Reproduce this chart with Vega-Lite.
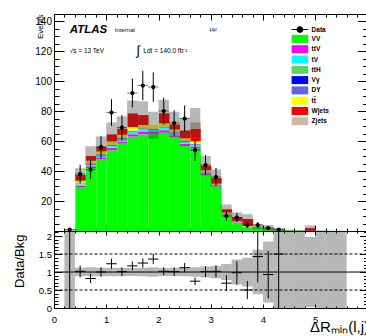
{
  "$schema": "https://vega.github.io/schema/vega-lite/v6.json",
  "padding": {"left": 12, "top": 13, "right": 0, "bottom": 0},
  "spacing": 0,
  "bounds": "flush",
  "config": {
    "font": "Liberation Sans",
    "view": {"stroke": "black", "strokeWidth": 1},
    "axis": {"grid": false, "domain": false, "tickColor": "black", "labelColor": "black", "titleColor": "black", "tickWidth": 1, "labelFlush": false, "labelOverlap": false, "titleFontWeight": "normal", "labelFont": "Liberation Sans", "titleFont": "Liberation Sans"}
  },
  "datasets": {
    "mc": [
      {"b": 0.2, "VV": 0.15, "ttV": 0, "tV": 0, "ttH": 0, "Vy": 0, "DY": 0, "tt": 0, "Wjets": 0, "Zjets": 0},
      {"b": 0.4, "VV": 29.3, "ttV": 1.0, "tV": 0.8, "ttH": 0.2, "Vy": 0.2, "DY": 0.3, "tt": 1.8, "Wjets": 3.7, "Zjets": 0},
      {"b": 0.6, "VV": 42.0, "ttV": 1.2, "tV": 1.0, "ttH": 0.3, "Vy": 0.2, "DY": 0.3, "tt": 1.8, "Wjets": 3.2, "Zjets": 0},
      {"b": 0.8, "VV": 47.8, "ttV": 1.3, "tV": 1.2, "ttH": 0.3, "Vy": 0.2, "DY": 0.3, "tt": 2.0, "Wjets": 3.1, "Zjets": 0},
      {"b": 1.0, "VV": 53.8, "ttV": 1.5, "tV": 1.3, "ttH": 0.4, "Vy": 0.2, "DY": 0.3, "tt": 2.2, "Wjets": 4.7, "Zjets": 0},
      {"b": 1.2, "VV": 58.2, "ttV": 1.5, "tV": 1.4, "ttH": 0.4, "Vy": 0.2, "DY": 0.3, "tt": 2.2, "Wjets": 4.0, "Zjets": 0},
      {"b": 1.4, "VV": 62.9, "ttV": 1.6, "tV": 1.5, "ttH": 0.4, "Vy": 0.2, "DY": 0.3, "tt": 2.3, "Wjets": 9.2, "Zjets": 0},
      {"b": 1.6, "VV": 64.4, "ttV": 1.6, "tV": 1.5, "ttH": 0.4, "Vy": 0.2, "DY": 0.3, "tt": 2.3, "Wjets": 6.6, "Zjets": 0},
      {"b": 1.8, "VV": 64.9, "ttV": 1.4, "tV": 1.2, "ttH": 0.3, "Vy": 0.2, "DY": 0.3, "tt": 2.2, "Wjets": 0, "Zjets": 0},
      {"b": 2.0, "VV": 65.6, "ttV": 1.6, "tV": 1.5, "ttH": 0.4, "Vy": 0.2, "DY": 0.3, "tt": 2.2, "Wjets": 6.7, "Zjets": 0},
      {"b": 2.2, "VV": 62.2, "ttV": 1.5, "tV": 1.3, "ttH": 0.4, "Vy": 0.2, "DY": 0.3, "tt": 1.8, "Wjets": 3.3, "Zjets": 0},
      {"b": 2.4, "VV": 56.7, "ttV": 1.4, "tV": 1.2, "ttH": 0.3, "Vy": 0.2, "DY": 0.3, "tt": 1.8, "Wjets": 5.1, "Zjets": 0},
      {"b": 2.6, "VV": 55.0, "ttV": 1.3, "tV": 1.1, "ttH": 0.3, "Vy": 0.2, "DY": 0.3, "tt": 1.6, "Wjets": 8.2, "Zjets": 4.5},
      {"b": 2.8, "VV": 37.5, "ttV": 0.9, "tV": 0.7, "ttH": 0.2, "Vy": 0.1, "DY": 0.2, "tt": 0.9, "Wjets": 3.0, "Zjets": 0},
      {"b": 3.0, "VV": 28.9, "ttV": 0.8, "tV": 0.6, "ttH": 0.2, "Vy": 0.1, "DY": 0.2, "tt": 0.8, "Wjets": 3.7, "Zjets": 0},
      {"b": 3.2, "VV": 11.0, "ttV": 0.4, "tV": 0.3, "ttH": 0.1, "Vy": 0.05, "DY": 0.1, "tt": 0.4, "Wjets": 2.15, "Zjets": 0},
      {"b": 3.4, "VV": 5.6, "ttV": 0.3, "tV": 0.2, "ttH": 0.05, "Vy": 0.05, "DY": 0.1, "tt": 0.3, "Wjets": 2.6, "Zjets": 0},
      {"b": 3.6, "VV": 2.5, "ttV": 0.2, "tV": 0.2, "ttH": 0.05, "Vy": 0.05, "DY": 0.05, "tt": 0.3, "Wjets": 4.65, "Zjets": 0},
      {"b": 3.8, "VV": 2.0, "ttV": 0.1, "tV": 0.1, "ttH": 0, "Vy": 0, "DY": 0.05, "tt": 0.15, "Wjets": 0.4, "Zjets": 0},
      {"b": 4.0, "VV": 1.6, "ttV": 0.1, "tV": 0.05, "ttH": 0, "Vy": 0, "DY": 0, "tt": 0.1, "Wjets": 0.3, "Zjets": 0},
      {"b": 4.2, "VV": 0.5, "ttV": 0.05, "tV": 0.05, "ttH": 0, "Vy": 0, "DY": 0, "tt": 0, "Wjets": 0.07, "Zjets": 0},
      {"b": 4.4, "VV": 0.3, "ttV": 0, "tV": 0, "ttH": 0, "Vy": 0, "DY": 0, "tt": 0, "Wjets": 0, "Zjets": 0},
      {"b": 4.6, "VV": 0.2, "ttV": 0, "tV": 0, "ttH": 0, "Vy": 0, "DY": 0, "tt": 0, "Wjets": 0, "Zjets": 0},
      {"b": 4.8, "VV": 0.1, "ttV": 0, "tV": 0, "ttH": 0, "Vy": 0, "DY": 0, "tt": 0, "Wjets": 1.8, "Zjets": 0},
      {"b": 5.0, "VV": 0.1, "ttV": 0, "tV": 0, "ttH": 0, "Vy": 0, "DY": 0, "tt": 0, "Wjets": 0, "Zjets": 0},
      {"b": 5.2, "VV": 0.05, "ttV": 0, "tV": 0, "ttH": 0, "Vy": 0, "DY": 0, "tt": 0, "Wjets": 0, "Zjets": 0},
      {"b": 5.4, "VV": 0.05, "ttV": 0, "tV": 0, "ttH": 0, "Vy": 0, "DY": 0, "tt": 0, "Wjets": 0, "Zjets": 0}
    ],
    "order": [
      {"p": "VV", "k": 0}, {"p": "ttV", "k": 1}, {"p": "tV", "k": 2}, {"p": "ttH", "k": 3}, {"p": "Vy", "k": 4},
      {"p": "DY", "k": 5}, {"p": "tt", "k": 6}, {"p": "Wjets", "k": 7}, {"p": "Zjets", "k": 8}
    ],
    "tot": [
      {"b": 0.2, "e": 0.4, "dn": 0, "up": 0.4, "rl": 0, "rh": 3},
      {"b": 0.4, "e": 0.6, "dn": 32.8, "up": 41.8, "rl": 0.88, "rh": 1.12},
      {"b": 0.6, "e": 0.8, "dn": 44.0, "up": 56.5, "rl": 0.88, "rh": 1.13},
      {"b": 0.8, "e": 1.0, "dn": 49.5, "up": 63.0, "rl": 0.88, "rh": 1.12},
      {"b": 1.0, "e": 1.2, "dn": 56.7, "up": 72.4, "rl": 0.88, "rh": 1.12},
      {"b": 1.2, "e": 1.4, "dn": 60.0, "up": 76.4, "rl": 0.88, "rh": 1.12},
      {"b": 1.4, "e": 1.6, "dn": 69.5, "up": 87.0, "rl": 0.89, "rh": 1.11},
      {"b": 1.6, "e": 1.8, "dn": 68.0, "up": 86.5, "rl": 0.88, "rh": 1.12},
      {"b": 1.8, "e": 2.0, "dn": 61.5, "up": 79.5, "rl": 0.87, "rh": 1.13},
      {"b": 2.0, "e": 2.2, "dn": 69.5, "up": 87.5, "rl": 0.89, "rh": 1.11},
      {"b": 2.2, "e": 2.4, "dn": 63.0, "up": 79.5, "rl": 0.89, "rh": 1.12},
      {"b": 2.4, "e": 2.6, "dn": 59.0, "up": 75.0, "rl": 0.88, "rh": 1.12},
      {"b": 2.6, "e": 2.8, "dn": 63.0, "up": 82.0, "rl": 0.87, "rh": 1.13},
      {"b": 2.8, "e": 3.0, "dn": 37.0, "up": 50.0, "rl": 0.85, "rh": 1.15},
      {"b": 3.0, "e": 3.2, "dn": 29.5, "up": 41.0, "rl": 0.83, "rh": 1.17},
      {"b": 3.2, "e": 3.4, "dn": 11.3, "up": 17.7, "rl": 0.78, "rh": 1.22},
      {"b": 3.4, "e": 3.6, "dn": 6.0, "up": 12.4, "rl": 0.65, "rh": 1.35},
      {"b": 3.6, "e": 3.8, "dn": 4.8, "up": 11.2, "rl": 0.6, "rh": 1.4},
      {"b": 3.8, "e": 4.0, "dn": 1.06, "up": 4.54, "rl": 0.38, "rh": 1.62},
      {"b": 4.0, "e": 4.2, "dn": 0.3, "up": 4.0, "rl": 0.15, "rh": 1.85},
      {"b": 4.2, "e": 4.4, "dn": 0, "up": 2.0, "rl": 0, "rh": 3},
      {"b": 4.4, "e": 4.6, "dn": 0, "up": 0.9, "rl": 0, "rh": 3},
      {"b": 4.6, "e": 4.8, "dn": 0, "up": 0.6, "rl": 0, "rh": 3},
      {"b": 4.8, "e": 5.0, "dn": 0.05, "up": 3.75, "rl": 0.03, "rh": 1.97},
      {"b": 5.0, "e": 5.2, "dn": 0, "up": 0.3, "rl": 0, "rh": 3},
      {"b": 5.2, "e": 5.4, "dn": 0, "up": 0.15, "rl": 0, "rh": 3},
      {"b": 5.4, "e": 5.6, "dn": 0, "up": 0.15, "rl": 0, "rh": 3}
    ],
    "obs": [
      {"c": 0.3, "n": 1, "nl": 0, "nh": 2, "r": 6.7, "rl": 0, "rh": 13.4},
      {"c": 0.5, "n": 38, "nl": 31.8, "nh": 44.2, "r": 1.02, "rl": 0.85, "rh": 1.18},
      {"c": 0.7, "n": 41, "nl": 34.6, "nh": 47.4, "r": 0.82, "rl": 0.69, "rh": 0.95},
      {"c": 0.9, "n": 56, "nl": 48.5, "nh": 63.5, "r": 1.0, "rl": 0.87, "rh": 1.13},
      {"c": 1.1, "n": 79, "nl": 70.1, "nh": 87.9, "r": 1.23, "rl": 1.09, "rh": 1.37},
      {"c": 1.3, "n": 69, "nl": 60.7, "nh": 77.3, "r": 1.01, "rl": 0.89, "rh": 1.13},
      {"c": 1.5, "n": 92, "nl": 82.4, "nh": 101.6, "r": 1.17, "rl": 1.05, "rh": 1.29},
      {"c": 1.7, "n": 97, "nl": 87.2, "nh": 106.8, "r": 1.25, "rl": 1.12, "rh": 1.38},
      {"c": 1.9, "n": 96, "nl": 86.2, "nh": 105.8, "r": 1.36, "rl": 1.22, "rh": 1.5},
      {"c": 2.1, "n": 80, "nl": 71.1, "nh": 88.9, "r": 1.02, "rl": 0.91, "rh": 1.13},
      {"c": 2.3, "n": 72, "nl": 63.5, "nh": 80.5, "r": 1.01, "rl": 0.89, "rh": 1.13},
      {"c": 2.5, "n": 75, "nl": 66.3, "nh": 83.7, "r": 1.12, "rl": 0.99, "rh": 1.25},
      {"c": 2.7, "n": 54, "nl": 46.7, "nh": 61.3, "r": 0.745, "rl": 0.64, "rh": 0.85},
      {"c": 2.9, "n": 44, "nl": 37.4, "nh": 50.6, "r": 1.01, "rl": 0.86, "rh": 1.16},
      {"c": 3.1, "n": 36, "nl": 30, "nh": 42, "r": 1.02, "rl": 0.85, "rh": 1.19},
      {"c": 3.3, "n": 10, "nl": 6.84, "nh": 13.16, "r": 0.69, "rl": 0.47, "rh": 0.91},
      {"c": 3.5, "n": 9, "nl": 6, "nh": 12, "r": 0.98, "rl": 0.65, "rh": 1.3},
      {"c": 3.7, "n": 4, "nl": 2, "nh": 6, "r": 0.5, "rl": 0.25, "rh": 0.75},
      {"c": 3.9, "n": 4, "nl": 2, "nh": 6, "r": 1.43, "rl": 0.71, "rh": 2.14},
      {"c": 4.1, "n": 2, "nl": 0.59, "nh": 3.41, "r": 0.93, "rl": 0.27, "rh": 1.59},
      {"c": 4.3, "n": 1, "nl": 0, "nh": 2, "r": 1.5, "rl": 0, "rh": 3}
    ]
  },
  "vconcat": [
    {
      "width": 313.5,
      "height": 217,
      "layer": [
        {
          "data": {"name": "mc"},
          "transform": [
            {"fold": ["VV", "ttV", "tV", "ttH", "Vy", "DY", "tt", "Wjets", "Zjets"], "as": ["p", "v"]},
            {"lookup": "p", "from": {"data": {"name": "order"}, "key": "p", "fields": ["k"]}}
          ],
          "mark": {"type": "bar", "binSpacing": 0, "strokeWidth": 0},
          "encoding": {
            "x": {"field": "b", "type": "quantitative", "bin": {"binned": true, "step": 0.2},
              "scale": {"domain": [0, 6], "nice": false, "zero": false},
              "axis": {"orient": "bottom", "title": null, "labels": false,
                "values": [0,0.2,0.4,0.6,0.8,1,1.2,1.4,1.6,1.8,2,2.2,2.4,2.6,2.8,3,3.2,3.4,3.6,3.8,4,4.2,4.4,4.6,4.8,5,5.2,5.4,5.6,5.8,6],
                "tickSize": {"condition": {"test": "abs(datum.value - round(datum.value)) < 0.01", "value": -6}, "value": -3}}},
            "y": {"field": "v", "type": "quantitative", "stack": "zero",
              "scale": {"domain": [0, 144.7], "nice": false},
              "axis": {"orient": "left", "title": "Events", "titleFontSize": 8, "titleX": -9.5, "titleY": 0, "titleAngle": -90, "titleAlign": "right", "titleBaseline": "bottom",
                "values": [0,5,10,15,20,25,30,35,40,45,50,55,60,65,70,75,80,85,90,95,100,105,110,115,120,125,130,135,140],
                "labelExpr": "datum.value % 20 === 0 && datum.value > 0 ? toString(datum.value) : ''",
                "labelFontSize": 10, "labelPadding": 12.5,
                "tickSize": {"condition": {"test": "datum.value % 20 === 0", "value": -10}, "value": -5}}},
            "color": {"field": "p", "type": "nominal",
              "scale": {"domain": ["Data", "VV", "ttV", "tV", "ttH", "Vy", "DY", "tt", "Wjets", "Zjets"],
                "range": ["#000000", "#00ff00", "#ff00ff", "#00ffff", "#5cd65c", "#0000ff", "#6464e0", "#ffff00", "#ff0000", "#c9b9a6"]},
              "legend": {"title": null, "orient": "none", "legendX": 240.4, "legendY": 10.1, "symbolSize": 108, "symbolStrokeWidth": 0, "symbolOpacity": 1,
                "labelFontSize": 6.5, "labelFontWeight": "bold", "labelFont": "Liberation Sans", "labelOffset": 6.2, "rowPadding": 0.3, "padding": 0,
                "labelExpr": "datum.label === 'Vy' ? 'Vγ' : datum.label === 'tt' ? 'tt\u0304' : datum.label"}},
            "order": {"field": "k", "type": "quantitative"}
          }
        },
        {
          "data": {"name": "tot"},
          "mark": {"type": "rect", "fill": "#333333", "opacity": 0.35},
          "encoding": {
            "x": {"field": "b", "type": "quantitative",
              "axis": {"orient": "top", "title": null, "labels": false,
                "values": [0,0.2,0.4,0.6,0.8,1,1.2,1.4,1.6,1.8,2,2.2,2.4,2.6,2.8,3,3.2,3.4,3.6,3.8,4,4.2,4.4,4.6,4.8,5,5.2,5.4,5.6,5.8,6],
                "tickSize": {"condition": {"test": "abs(datum.value - round(datum.value)) < 0.01", "value": -6}, "value": -3}}},
            "x2": {"field": "e"},
            "y": {"field": "dn", "type": "quantitative",
              "axis": {"orient": "right", "title": null, "labels": false,
                "values": [0,5,10,15,20,25,30,35,40,45,50,55,60,65,70,75,80,85,90,95,100,105,110,115,120,125,130,135,140],
                "tickSize": {"condition": {"test": "datum.value % 20 === 0", "value": -10}, "value": -5}}},
            "y2": {"field": "up"}
          }
        },
        {
          "data": {"name": "obs"},
          "mark": {"type": "rule", "color": "black", "strokeWidth": 1},
          "encoding": {
            "x": {"field": "c", "type": "quantitative", "axis": null},
            "y": {"field": "nl", "type": "quantitative", "axis": null},
            "y2": {"field": "nh"}
          }
        },
        {
          "data": {"name": "obs"},
          "mark": {"type": "point", "filled": true, "size": 42.6, "opacity": 1, "strokeWidth": 0},
          "encoding": {
            "x": {"field": "c", "type": "quantitative", "axis": null},
            "y": {"field": "n", "type": "quantitative", "axis": null},
            "color": {"datum": "Data"},
            "shape": {"datum": "Data",
              "scale": {"domain": ["Data", "VV", "ttV", "tV", "ttH", "Vy", "DY", "tt", "Wjets", "Zjets"],
                "range": ["M-1.6,-0.1H1.6V0.1H-1.6Z M0.65,0A0.65,0.65,0,1,1,-0.65,0A0.65,0.65,0,1,1,0.65,0Z",
                  "M-1.6,-0.77H1.6V0.77H-1.6Z", "M-1.6,-0.77H1.6V0.77H-1.6Z", "M-1.6,-0.77H1.6V0.77H-1.6Z", "M-1.6,-0.77H1.6V0.77H-1.6Z", "M-1.6,-0.77H1.6V0.77H-1.6Z",
                  "M-1.6,-0.77H1.6V0.77H-1.6Z", "M-1.6,-0.77H1.6V0.77H-1.6Z", "M-1.6,-0.77H1.6V0.77H-1.6Z", "M-1.6,-0.77H1.6V0.77H-1.6Z"]},
              "legend": {"title": null, "orient": "none", "legendX": 240.4, "legendY": 10.1, "symbolSize": 108, "symbolStrokeWidth": 0, "symbolOpacity": 1,
                "labelFontSize": 6.5, "labelFontWeight": "bold", "labelFont": "Liberation Sans", "labelOffset": 6.2, "rowPadding": 0.3, "padding": 0,
                "labelExpr": "datum.label === 'Vy' ? 'Vγ' : datum.label === 'tt' ? 'tt\u0304' : datum.label"}}
          }
        },
        {
          "data": {"values": [{}]},
          "mark": {"type": "text", "text": "ATLAS", "fontSize": 11.5, "fontWeight": "bold", "fontStyle": "italic", "align": "left", "baseline": "alphabetic", "color": "black"},
          "encoding": {"x": {"datum": 0.3, "type": "quantitative", "axis": null}, "y": {"datum": 132.2, "type": "quantitative", "axis": null}}
        },
        {
          "data": {"values": [{}]},
          "mark": {"type": "text", "text": "Internal", "fontSize": 6, "align": "left", "baseline": "alphabetic", "color": "black"},
          "encoding": {"x": {"datum": 1.165, "type": "quantitative", "axis": null}, "y": {"datum": 132.9, "type": "quantitative", "axis": null}}
        },
        {
          "data": {"values": [{}]},
          "mark": {"type": "text", "text": "μμ", "fontSize": 6, "align": "left", "baseline": "alphabetic", "color": "black"},
          "encoding": {"x": {"datum": 2.98, "type": "quantitative", "axis": null}, "y": {"datum": 133.3, "type": "quantitative", "axis": null}}
        },
        {
          "data": {"values": [{}]},
          "mark": {"type": "text", "text": "√s = 13 TeV", "fontSize": 6.5, "align": "left", "baseline": "alphabetic", "color": "black"},
          "encoding": {"x": {"datum": 0.3, "type": "quantitative", "axis": null}, "y": {"datum": 118.7, "type": "quantitative", "axis": null}}
        },
        {
          "data": {"values": [{}]},
          "mark": {"type": "text", "text": "∫", "fontSize": 13, "align": "left", "baseline": "alphabetic", "color": "black"},
          "encoding": {"x": {"datum": 1.58, "type": "quantitative", "axis": null}, "y": {"datum": 117.5, "type": "quantitative", "axis": null}}
        },
        {
          "data": {"values": [{}]},
          "mark": {"type": "text", "text": "Ldt = 140.0 fb⁻¹", "fontSize": 6.5, "align": "left", "baseline": "alphabetic", "color": "black"},
          "encoding": {"x": {"datum": 1.71, "type": "quantitative", "axis": null}, "y": {"datum": 118.7, "type": "quantitative", "axis": null}}
        }
      ],
      "resolve": {"axis": {"x": "independent", "y": "independent"}}
    },
    {
      "width": 313.5,
      "height": 77,
      "layer": [
        {
          "data": {"name": "tot"},
          "mark": {"type": "rect", "fill": "#333333", "opacity": 0.35, "clip": true},
          "encoding": {
            "x": {"field": "b", "type": "quantitative",
              "scale": {"domain": [0, 6], "nice": false, "zero": false},
              "axis": {"orient": "bottom", "title": "ΔRₘᵢₙ(l,j)", "titleFontSize": 15, "titleAnchor": "start", "titleAlign": "left", "titleX": 255.5, "titleY": 23, "titleBaseline": "alphabetic",
                "values": [0,0.2,0.4,0.6,0.8,1,1.2,1.4,1.6,1.8,2,2.2,2.4,2.6,2.8,3,3.2,3.4,3.6,3.8,4,4.2,4.4,4.6,4.8,5,5.2,5.4,5.6,5.8,6],
                "labelExpr": "abs(datum.value - round(datum.value)) < 0.01 && datum.value < 5.5 ? toString(round(datum.value)) : ''",
                "labelFontSize": 9.5, "labelPadding": 10,
                "tickSize": {"condition": {"test": "abs(datum.value - round(datum.value)) < 0.01", "value": -4}, "value": -2}}},
            "x2": {"field": "e"},
            "y": {"field": "rl", "type": "quantitative",
              "scale": {"domain": [0, 2.14], "nice": false},
              "axis": {"orient": "left", "title": "Data/Bkg", "titleFontSize": 13, "titleX": -27.5, "titleY": 3, "titleAngle": -90, "titleAlign": "right", "titleBaseline": "bottom",
                "values": [0,0.1,0.2,0.3,0.4,0.5,0.6,0.7,0.8,0.9,1,1.1,1.2,1.3,1.4,1.5,1.6,1.7,1.8,1.9,2,2.1],
                "labelExpr": "abs(datum.value*2 - round(datum.value*2)) < 0.01 ? toString(datum.value) : ''",
                "labelFontSize": 9.5, "labelPadding": 10.5,
                "tickSize": {"condition": {"test": "abs(datum.value*2 - round(datum.value*2)) < 0.01", "value": -8}, "value": -4}}},
            "y2": {"field": "rh"}
          }
        },
        {
          "data": {"values": [{}]},
          "mark": {"type": "rule", "color": "black", "strokeWidth": 1},
          "encoding": {"y": {"datum": 1, "type": "quantitative", "axis": null}}
        },
        {
          "data": {"values": [{}]},
          "mark": {"type": "rule", "color": "black", "strokeWidth": 1, "strokeDash": [3, 2]},
          "encoding": {"y": {"datum": 0.5, "type": "quantitative", "axis": null}}
        },
        {
          "data": {"values": [{}]},
          "mark": {"type": "rule", "color": "black", "strokeWidth": 1, "strokeDash": [3, 2]},
          "encoding": {"y": {"datum": 1.5, "type": "quantitative", "axis": null}}
        },
        {
          "data": {"name": "obs"},
          "mark": {"type": "rule", "color": "black", "strokeWidth": 1, "clip": true},
          "encoding": {
            "x": {"field": "c", "type": "quantitative",
              "axis": {"orient": "top", "title": null, "labels": false,
                "values": [0,0.2,0.4,0.6,0.8,1,1.2,1.4,1.6,1.8,2,2.2,2.4,2.6,2.8,3,3.2,3.4,3.6,3.8,4,4.2,4.4,4.6,4.8,5,5.2,5.4,5.6,5.8,6],
                "tickSize": {"condition": {"test": "abs(datum.value - round(datum.value)) < 0.01", "value": -4}, "value": -2}}},
            "y": {"field": "rl", "type": "quantitative",
              "axis": {"orient": "right", "title": null, "labels": false,
                "values": [0,0.1,0.2,0.3,0.4,0.5,0.6,0.7,0.8,0.9,1,1.1,1.2,1.3,1.4,1.5,1.6,1.7,1.8,1.9,2,2.1],
                "tickSize": {"condition": {"test": "abs(datum.value*2 - round(datum.value*2)) < 0.01", "value": -8}, "value": -4}}},
            "y2": {"field": "rh"}
          }
        },
        {
          "data": {"name": "obs"},
          "mark": {"type": "point", "shape": "M-1,0H1", "size": 109, "filled": false, "stroke": "black", "strokeWidth": 1, "opacity": 1, "clip": true},
          "encoding": {
            "x": {"field": "c", "type": "quantitative", "axis": null},
            "y": {"field": "r", "type": "quantitative", "axis": null}
          }
        }
      ],
      "resolve": {"axis": {"x": "independent", "y": "independent"}}
    }
  ]
}
